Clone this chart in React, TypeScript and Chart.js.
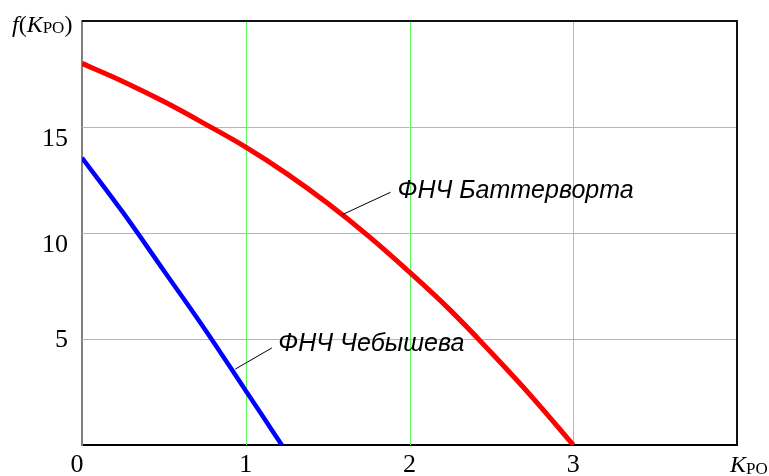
import { useEffect, useRef } from 'react';
import { Chart, registerables } from 'chart.js';

Chart.register(...registerables);

// ---- data ----
const butterworthX = [0, 0.25, 0.5, 0.75, 1.0, 1.25, 1.5, 1.75, 2.0, 2.25, 2.5, 2.75, 3.0];
const butterworthY = [18.0, 17.15, 16.2, 15.15, 14.05, 12.8, 11.4, 9.85, 8.15, 6.35, 4.35, 2.25, 0];
const chebyshevX = [0, 0.25, 0.5, 0.75, 1.0, 1.1, 1.22];
const chebyshevY = [13.55, 10.97, 8.22, 5.46, 2.56, 1.4, 0];
const seriesNames = ['ФНЧ Баттерворта', 'ФНЧ Чебышева'];
const xTickValues = [0, 1, 2, 3];
const xTickLabels = ['0', '1', '2', '3'];
const yTickValues = [5, 10, 15];
const yTickLabels = ['5', '10', '15'];
const xGridValues = [1, 2, 3];
const yGridValues = [5, 10, 15];
const xMin = 0, xMax = 4, yMin = 0, yMax = 20;

// annotation anchors (data coords): text position, leader start, leader end
const annotations = [
  { text: seriesNames[0], tx: 1.927, ty: 11.67, lx1: 1.884, ly1: 11.92, lx2: 1.588, ly2: 10.86 },
  { text: seriesNames[1], tx: 1.199, ty: 4.42, lx1: 1.16, ly1: 4.58, lx2: 0.936, ly2: 3.58 },
];

const SERIF = '"Liberation Serif", "Times New Roman", serif';
const SANS = '"Liberation Sans", Arial, sans-serif';
const GRID = '#5cf55c';

type Part = { t: string; font: string; dy?: number };
function drawRich(ctx: CanvasRenderingContext2D, parts: Part[], x: number, y: number) {
  let cx = x;
  for (const p of parts) {
    ctx.font = p.font;
    ctx.fillText(p.t, cx, y + (p.dy || 0));
    cx += ctx.measureText(p.t).width;
  }
}

const gridPlugin = {
  id: 'greenGrid',
  beforeDatasetsDraw(chart: any) {
    const ctx: CanvasRenderingContext2D = chart.ctx;
    const { left, right, top, bottom } = chart.chartArea;
    const xs = chart.scales.x;
    const ys = chart.scales.y;
    ctx.save();
    ctx.strokeStyle = GRID;
    ctx.lineWidth = 1;
    ctx.beginPath();
    for (const v of xGridValues) {
      const px = Math.round(xs.getPixelForValue(v)) + 0.5;
      ctx.moveTo(px, top);
      ctx.lineTo(px, bottom);
    }
    for (const v of yGridValues) {
      const py = Math.round(ys.getPixelForValue(v)) + 0.5;
      ctx.moveTo(left, py);
      ctx.lineTo(right, py);
    }
    ctx.stroke();
    ctx.restore();
  },
};

const decorPlugin = {
  id: 'decor',
  afterDraw(chart: any) {
    const ctx: CanvasRenderingContext2D = chart.ctx;
    const { left, right, top, bottom } = chart.chartArea;
    const xs = chart.scales.x;
    const ys = chart.scales.y;
    ctx.save();
    // top & right frame
    ctx.strokeStyle = '#111';
    ctx.lineWidth = 2;
    ctx.beginPath();
    ctx.moveTo(left, top);
    ctx.lineTo(right, top);
    ctx.lineTo(right, bottom);
    ctx.stroke();

    ctx.fillStyle = '#000';
    ctx.textBaseline = 'alphabetic';
    // x tick labels
    ctx.font = '26px ' + SERIF;
    ctx.textAlign = 'center';
    xTickValues.forEach((v, i) => {
      const px = xs.getPixelForValue(v) + (v === 0 ? -5 : 0);
      ctx.fillText(xTickLabels[i], px, bottom + 27);
    });
    // y tick labels
    ctx.textAlign = 'right';
    yTickValues.forEach((v, i) => {
      const py = ys.getPixelForValue(v) + (v === 5 ? 8 : 18.5);
      ctx.fillText(yTickLabels[i], left - 14, py);
    });
    // axis names
    ctx.textAlign = 'left';
    drawRich(ctx, [
      { t: 'f', font: 'italic 24px ' + SERIF },
      { t: '(', font: '24px ' + SERIF },
      { t: 'K', font: 'italic 24px ' + SERIF },
      { t: 'PO', font: '17px ' + SERIF, dy: 1 },
      { t: ')', font: '24px ' + SERIF },
    ], 12, top + 11);
    drawRich(ctx, [
      { t: 'K', font: 'italic 24px ' + SERIF },
      { t: 'PO', font: '17px ' + SERIF, dy: 2 },
    ], xs.getPixelForValue(xMax) - 7, bottom + 27);

    // annotations
    ctx.strokeStyle = '#000';
    ctx.lineWidth = 1;
    ctx.font = 'italic 25px ' + SANS;
    for (const a of annotations) {
      ctx.beginPath();
      ctx.moveTo(xs.getPixelForValue(a.lx1), ys.getPixelForValue(a.ly1));
      ctx.lineTo(xs.getPixelForValue(a.lx2), ys.getPixelForValue(a.ly2));
      ctx.stroke();
      ctx.fillText(a.text, xs.getPixelForValue(a.tx), ys.getPixelForValue(a.ty));
    }
    ctx.restore();
  },
};

export default function App() {
  const ref = useRef<HTMLCanvasElement>(null);
  useEffect(() => {
    document.body.style.margin = '0';
    const canvas = ref.current!;
    const chart = new Chart(canvas, {
      type: 'line',
      data: {
        datasets: [
          {
            label: seriesNames[0],
            data: butterworthX.map((x, i) => ({ x, y: butterworthY[i] })),
            borderColor: '#ff0000',
            borderWidth: 5,
            pointRadius: 0,
            tension: 0.4,
            fill: false,
          },
          {
            label: seriesNames[1],
            data: chebyshevX.map((x, i) => ({ x, y: chebyshevY[i] })),
            borderColor: '#0000ff',
            borderWidth: 4.5,
            pointRadius: 0,
            tension: 0.4,
            fill: false,
          },
        ],
      },
      options: {
        responsive: false,
        animation: false,
        devicePixelRatio: 1,
        layout: { padding: { left: 82, top: 21, right: 32, bottom: 31 } },
        plugins: { legend: { display: false }, tooltip: { enabled: false } },
        scales: {
          x: {
            type: 'linear',
            min: xMin,
            max: xMax,
            ticks: { display: false, stepSize: 1 },
            grid: { display: false, drawTicks: false },
            border: { display: true, color: '#000', width: 2 },
          },
          y: {
            type: 'linear',
            min: yMin,
            max: yMax,
            ticks: { display: false, stepSize: 5 },
            grid: { display: false, drawTicks: false },
            border: { display: true, color: '#808080', width: 2 },
          },
        },
      },
      plugins: [gridPlugin, decorPlugin],
    });
    return () => chart.destroy();
  }, []);
  return (
    <div style={{ width: 769, height: 476, background: '#fff' }}>
      <canvas ref={ref} width={769} height={476} />
    </div>
  );
}
